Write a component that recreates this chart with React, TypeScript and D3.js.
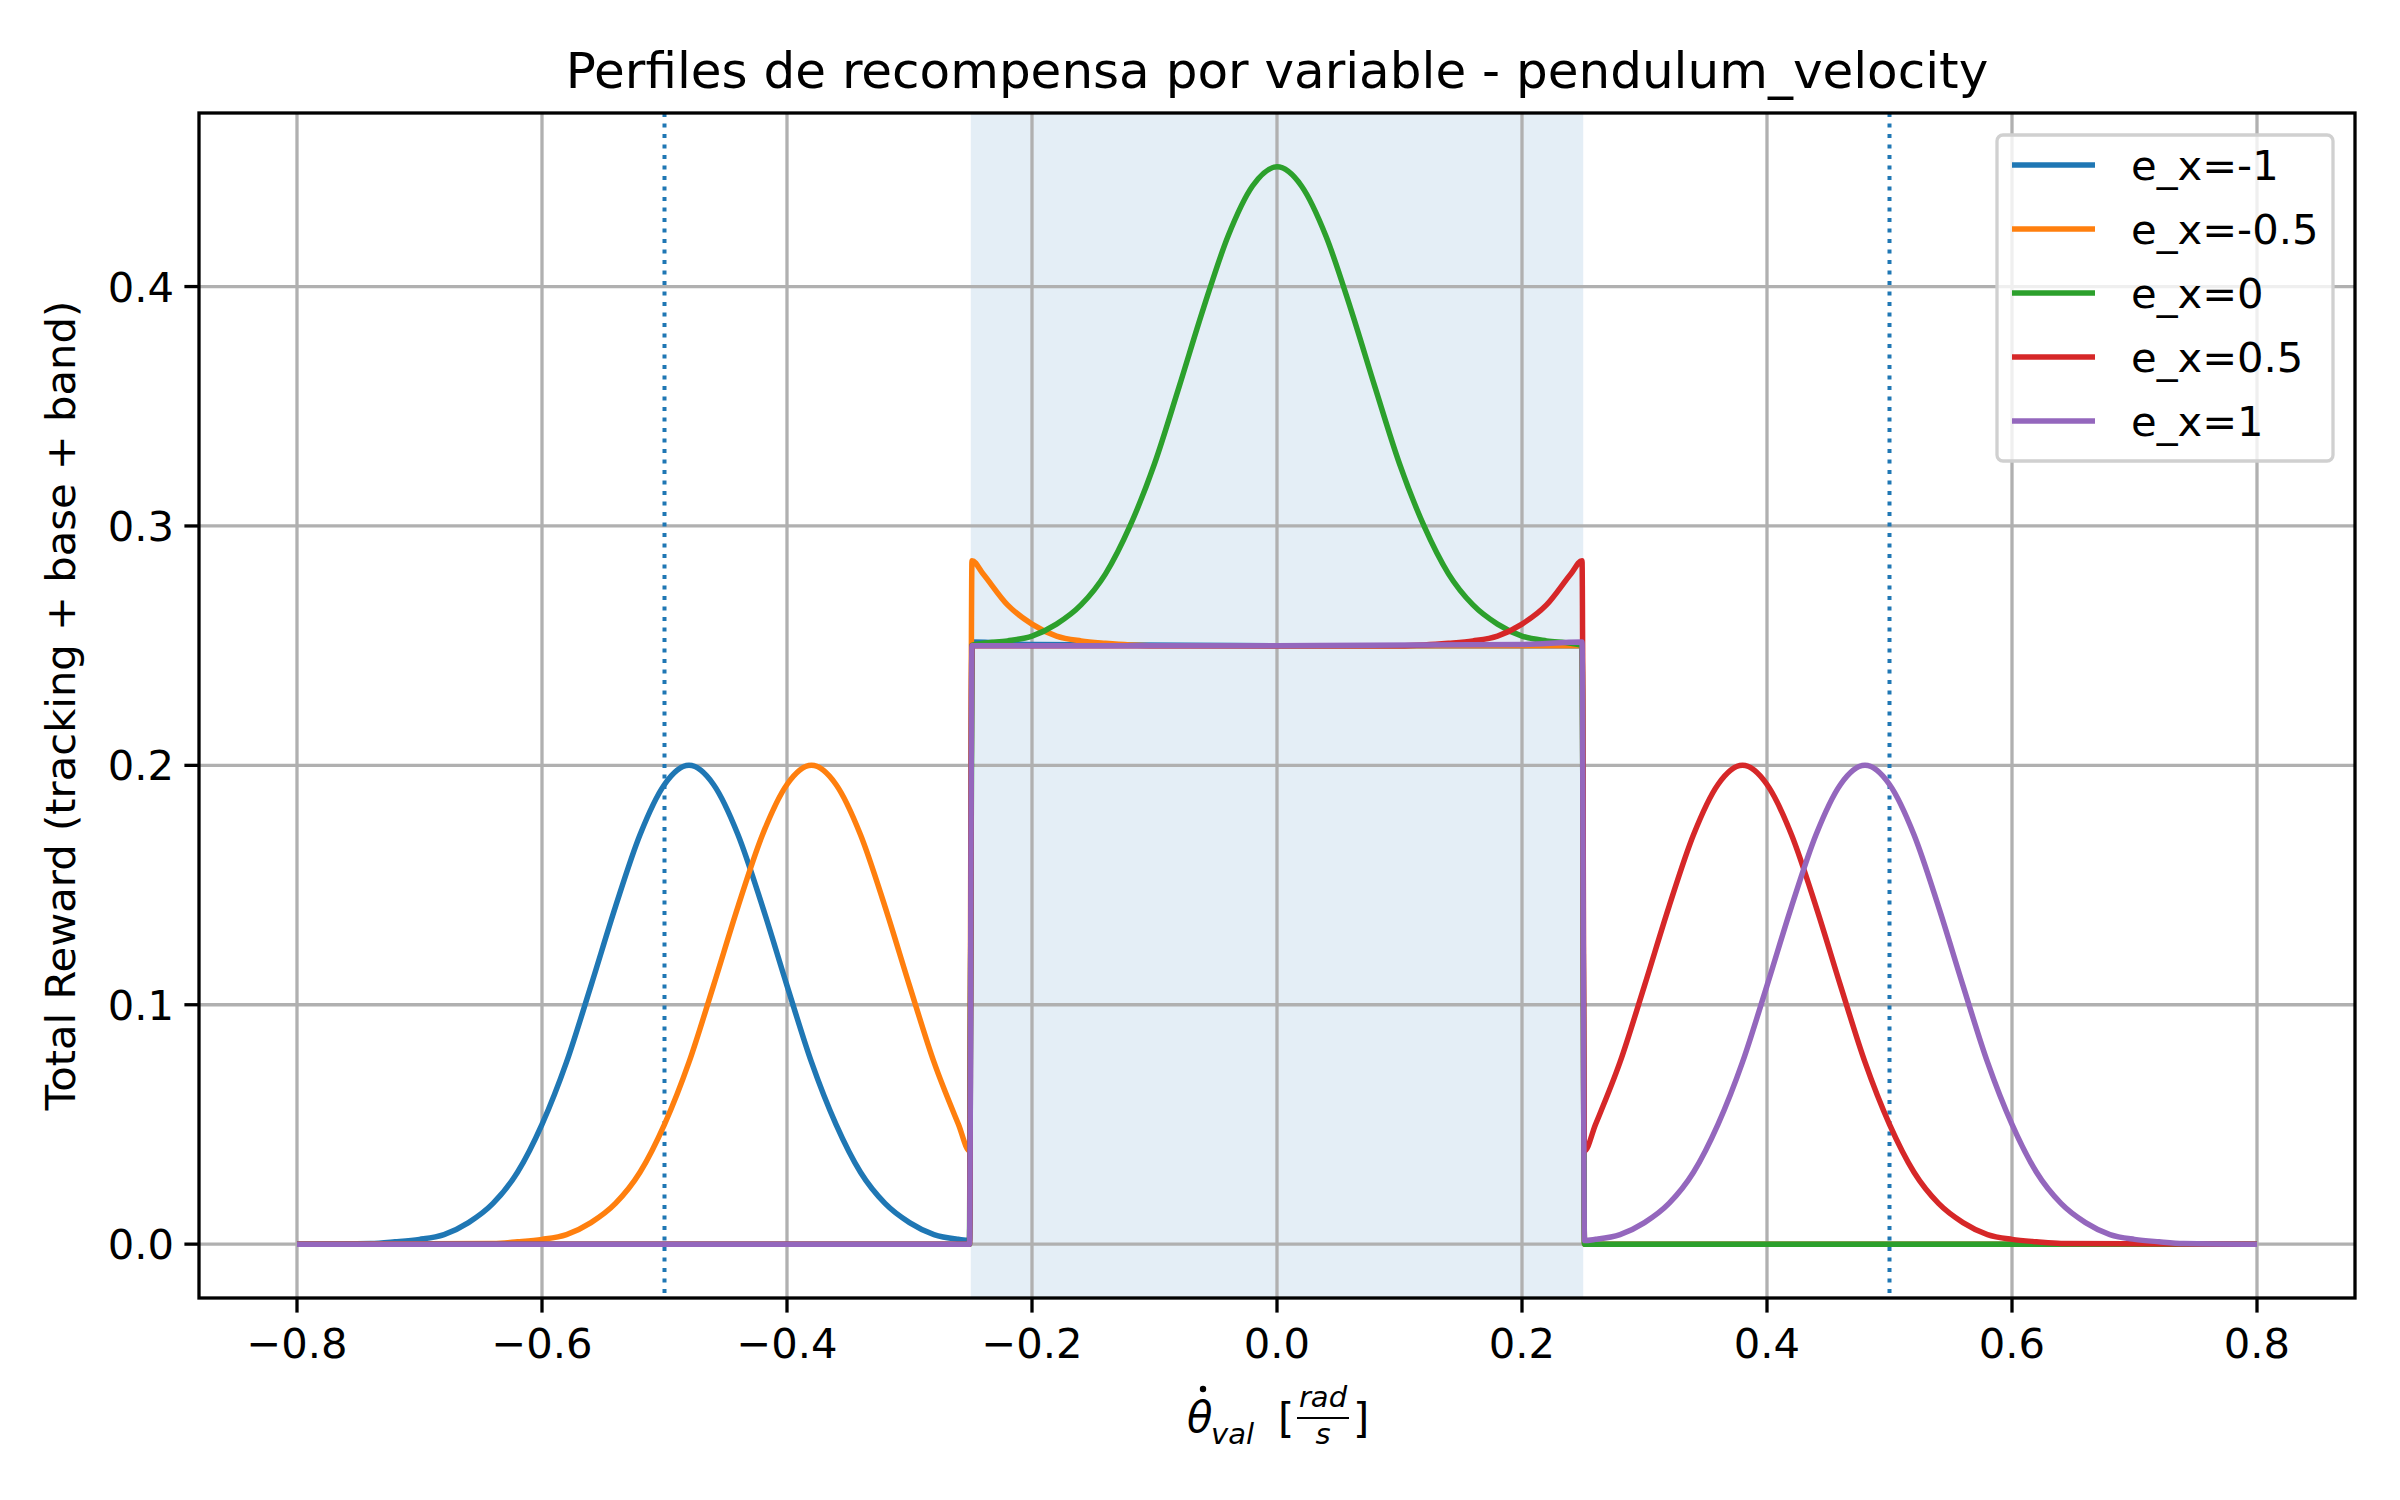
import * as d3 from "d3";

const title = "Perfiles de recompensa por variable - pendulum_velocity";
const yLabel = "Total Reward (tracking + base + band)";
const xTicks = [-0.8, -0.6, -0.4, -0.2, 0.0, 0.2, 0.4, 0.6, 0.8];
const yTicks = [0.0, 0.1, 0.2, 0.3, 0.4];
const bandRange = [-0.25, 0.25];
const dottedLines = [-0.5, 0.5];

const seriesNames = ["e_x=-1", "e_x=-0.5", "e_x=0", "e_x=0.5", "e_x=1"];
const seriesColors = ["#1f77b4", "#ff7f0e", "#2ca02c", "#d62728", "#9467bd"];

// [x, y] samples
const blue: [number, number][] = [
  [-0.8, 0], [-0.74, 0.0003], [-0.72, 0.001], [-0.7, 0.002], [-0.68, 0.004], [-0.66, 0.009],
  [-0.64, 0.017], [-0.62, 0.03], [-0.6, 0.05], [-0.58, 0.076], [-0.56, 0.108], [-0.54, 0.141],
  [-0.52, 0.171], [-0.5, 0.192], [-0.48, 0.2], [-0.46, 0.192], [-0.44, 0.171], [-0.42, 0.141],
  [-0.4, 0.108], [-0.38, 0.076], [-0.36, 0.05], [-0.34, 0.03], [-0.32, 0.017], [-0.3, 0.009],
  [-0.28, 0.004], [-0.26, 0.002], [-0.251, 0.0015], [-0.249, 0.2515], [-0.2, 0.2505],
  [0, 0.25], [0.249, 0.25], [0.251, 0], [0.8, 0],
];
const orange: [number, number][] = [
  [-0.8, 0], [-0.64, 0.0003], [-0.62, 0.001], [-0.6, 0.002], [-0.58, 0.004], [-0.56, 0.009],
  [-0.54, 0.017], [-0.52, 0.03], [-0.5, 0.05], [-0.48, 0.076], [-0.46, 0.108], [-0.44, 0.141],
  [-0.42, 0.171], [-0.4, 0.192], [-0.38, 0.2], [-0.36, 0.192], [-0.34, 0.171], [-0.32, 0.141],
  [-0.3, 0.108], [-0.28, 0.076], [-0.26, 0.05], [-0.251, 0.039], [-0.249, 0.2855],
  [-0.24, 0.28], [-0.22, 0.267], [-0.2, 0.259], [-0.18, 0.254], [-0.16, 0.252], [-0.14, 0.251],
  [-0.12, 0.2503], [-0.1, 0.25], [0.249, 0.25], [0.251, 0], [0.8, 0],
];
const green: [number, number][] = [
  [-0.8, 0], [-0.251, 0], [-0.249, 0.2501], [-0.24, 0.251], [-0.22, 0.252], [-0.2, 0.254],
  [-0.18, 0.259], [-0.16, 0.267], [-0.14, 0.28], [-0.12, 0.3], [-0.1, 0.326], [-0.08, 0.358],
  [-0.06, 0.391], [-0.04, 0.421], [-0.02, 0.442], [0, 0.45], [0.02, 0.442], [0.04, 0.421],
  [0.06, 0.391], [0.08, 0.358], [0.1, 0.326], [0.12, 0.3], [0.14, 0.28], [0.16, 0.267],
  [0.18, 0.259], [0.2, 0.254], [0.22, 0.252], [0.24, 0.251], [0.249, 0.2501], [0.251, 0], [0.8, 0],
];
const red: [number, number][] = [
  [-0.8, 0], [-0.251, 0], [-0.249, 0.25], [0.1, 0.25], [0.12, 0.2503], [0.14, 0.251],
  [0.16, 0.252], [0.18, 0.254], [0.2, 0.259], [0.22, 0.267], [0.24, 0.28], [0.249, 0.2855],
  [0.251, 0.039], [0.26, 0.05], [0.28, 0.076], [0.3, 0.108], [0.32, 0.141], [0.34, 0.171],
  [0.36, 0.192], [0.38, 0.2], [0.4, 0.192], [0.42, 0.171], [0.44, 0.141], [0.46, 0.108],
  [0.48, 0.076], [0.5, 0.05], [0.52, 0.03], [0.54, 0.017], [0.56, 0.009], [0.58, 0.004],
  [0.6, 0.002], [0.62, 0.001], [0.64, 0.0003], [0.8, 0],
];
const purple: [number, number][] = [
  [-0.8, 0], [-0.251, 0], [-0.249, 0.25], [0, 0.25], [0.2, 0.2505], [0.249, 0.2515],
  [0.251, 0.0015], [0.26, 0.002], [0.28, 0.004], [0.3, 0.009], [0.32, 0.017], [0.34, 0.03],
  [0.36, 0.05], [0.38, 0.076], [0.4, 0.108], [0.42, 0.141], [0.44, 0.171], [0.46, 0.192],
  [0.48, 0.2], [0.5, 0.192], [0.52, 0.171], [0.54, 0.141], [0.56, 0.108], [0.58, 0.076],
  [0.6, 0.05], [0.62, 0.03], [0.64, 0.017], [0.66, 0.009], [0.68, 0.004], [0.7, 0.002],
  [0.72, 0.001], [0.74, 0.0003], [0.8, 0],
];
const seriesData = [blue, orange, green, red, purple];

const W = 2400, H = 1500;
const L = 199, R = 2355, T = 113, B = 1298;
const font = "DejaVu Sans, sans-serif";

export default function App() {
  const x = d3.scaleLinear().domain([-0.88, 0.88]).range([L, R]);
  const y = d3.scaleLinear().domain([-0.0225, 0.4725]).range([B, T]);
  const line = d3
    .line<[number, number]>()
    .x((d) => x(d[0]))
    .y((d) => y(d[1]))
    .curve(d3.curveMonotoneX);
  const cx = (L + R) / 2;
  const fmt = (v: number) => (v < 0 ? "\u2212" : "") + Math.abs(v).toFixed(1);
  const legX = 1997, legY = 135, legH = 64;

  return (
    <svg width={W} height={H} style={{ position: "absolute", left: 0, top: 0 }} fontFamily={font}>
      <rect width={W} height={H} fill="#fff" />
      <rect x={x(bandRange[0])} y={T} width={x(bandRange[1]) - x(bandRange[0])} height={B - T} fill="#1f77b4" fillOpacity={0.12} />
      {xTicks.map((t) => (
        <line key={"gx" + t} x1={x(t)} x2={x(t)} y1={T} y2={B} stroke="#b0b0b0" strokeWidth={3.3} />
      ))}
      {yTicks.map((t) => (
        <line key={"gy" + t} x1={L} x2={R} y1={y(t)} y2={y(t)} stroke="#b0b0b0" strokeWidth={3.3} />
      ))}
      {dottedLines.map((v) => (
        <line key={"d" + v} x1={x(v)} x2={x(v)} y1={T} y2={B} stroke="#1f77b4" strokeWidth={4} strokeDasharray="4 6.5" />
      ))}
      {seriesData.map((s, i) => (
        <path key={i} d={line(s) ?? ""} fill="none" stroke={seriesColors[i]} strokeWidth={5.5} strokeLinejoin="round" />
      ))}
      <rect x={L} y={T} width={R - L} height={B - T} fill="none" stroke="#000" strokeWidth={3.3} />
      {xTicks.map((t) => (
        <g key={"tx" + t}>
          <line x1={x(t)} x2={x(t)} y1={B} y2={B + 14.6} stroke="#000" strokeWidth={3.3} />
          <text x={x(t)} y={B + 60} textAnchor="middle" fontSize={41.7}>{fmt(t)}</text>
        </g>
      ))}
      {yTicks.map((t) => (
        <g key={"ty" + t}>
          <line x1={L - 14.6} x2={L} y1={y(t)} y2={y(t)} stroke="#000" strokeWidth={3.3} />
          <text x={L - 25} y={y(t) + 15} textAnchor="end" fontSize={41.7}>{fmt(t)}</text>
        </g>
      ))}
      <text x={cx} y={88} textAnchor="middle" fontSize={50}>{title}</text>
      <text transform={`translate(61,${(T + B) / 2}) rotate(-90)`} y={14} textAnchor="middle" fontSize={41.7}>{yLabel}</text>
      {/* x label: theta-dot_val [rad/s] */}
      <g fontSize={41.7}>
        <text x={cx - 90} y={1432} fontStyle="italic">θ</text>
        <circle cx={cx - 74} cy={1389} r={3.2} fill="#000" />
        <text x={cx - 66} y={1444} fontStyle="italic" fontSize={29}>val</text>
        <text x={cx + 1} y={1432}>[</text>
        <text x={cx + 46} y={1407} fontStyle="italic" fontSize={29} textAnchor="middle">rad</text>
        <line x1={cx + 20} x2={cx + 72} y1={1418} y2={1418} stroke="#000" strokeWidth={2.2} />
        <text x={cx + 46} y={1444} fontStyle="italic" fontSize={29} textAnchor="middle">s</text>
        <text x={cx + 76} y={1432}>]</text>
      </g>
      <rect x={legX} y={legY} width={336} height={326} rx={6} fill="#fff" fillOpacity={0.8} stroke="#d0d0d0" strokeWidth={3.3} />
      {seriesNames.map((n, i) => (
        <g key={n}>
          <line x1={2012} x2={2095} y1={legY + 30 + i * legH} y2={legY + 30 + i * legH} stroke={seriesColors[i]} strokeWidth={5.5} />
          <text x={2131} y={legY + 45 + i * legH} fontSize={41.7}>{n}</text>
        </g>
      ))}
    </svg>
  );
}
